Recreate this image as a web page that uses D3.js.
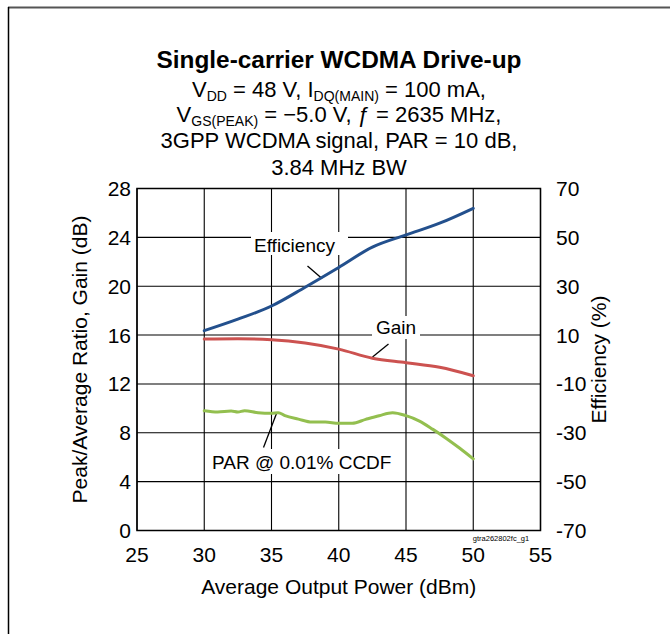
<!DOCTYPE html>
<html>
<head>
<meta charset="utf-8">
<script src="https://cdn.jsdelivr.net/npm/d3@7"></script>
<style>
  body { margin: 0; background: #fff; }
  text { font-family: "Liberation Sans", Arial, sans-serif; fill: #000; }
</style>
</head>
<body>
<svg id="chart"></svg>
<script>
// Config
const width = 670;
const height = 634;

// Data
const xTicks = [25, 30, 35, 40, 45, 50, 55];
const leftTicks = [0, 4, 8, 12, 16, 20, 24, 28];
const rightTicks = [-70, -50, -30, -10, 10, 30, 50, 70];

const effX = [30, 32.5, 35, 37.5, 40, 42.5, 45, 47.5, 50];
const effY = [11.8, 16.5, 21.9, 29.6, 37.7, 46.0, 51.0, 55.8, 61.9];

const gainX = [30, 32.5, 35, 37.5, 40, 42.5, 45, 47.5, 50];
const gainY = [15.67, 15.70, 15.62, 15.35, 14.85, 14.1, 13.74, 13.36, 12.67];

const parX = [30, 31, 32, 32.5, 33, 34, 35, 35.5, 36, 37, 38, 39, 40, 41, 42, 43, 44, 45, 46, 47, 48, 49, 50];
const parY = [9.8, 9.7, 9.78, 9.7, 9.8, 9.64, 9.59, 9.65, 9.4, 9.12, 8.88, 8.88, 8.78, 8.78, 9.1, 9.4, 9.64, 9.4, 8.96, 8.28, 7.54, 6.73, 5.86];

const svg = d3.select("#chart")
  .attr("width", width)
  .attr("height", height);

// page frame
svg.append("line").attr("x1", 8).attr("y1", 7.5).attr("x2", width).attr("y2", 7.5)
  .attr("stroke", "#555").attr("stroke-width", 2);
svg.append("line").attr("x1", 8.5).attr("y1", 7).attr("x2", 8.5).attr("y2", height)
  .attr("stroke", "#000").attr("stroke-width", 1.5);

// plot area
const plot = { left: 137, right: 540.5, top: 188.5, bottom: 530.5 };

const x = d3.scaleLinear().domain([25, 55]).range([plot.left, plot.right]);
const yL = d3.scaleLinear().domain([0, 28]).range([plot.bottom, plot.top]);
const yR = d3.scaleLinear().domain([-70, 70]).range([plot.bottom, plot.top]);

// grid
const grid = svg.append("g").attr("stroke", "#000").attr("stroke-width", 1.1);
xTicks.forEach(t => {
  grid.append("line").attr("x1", x(t)).attr("x2", x(t))
    .attr("y1", plot.top).attr("y2", plot.bottom);
});
leftTicks.forEach(t => {
  grid.append("line").attr("x1", plot.left).attr("x2", plot.right)
    .attr("y1", yL(t)).attr("y2", yL(t));
});

// axes labels
const fs = 21;
svg.append("g").selectAll("text").data(xTicks).join("text")
  .attr("x", d => x(d)).attr("y", 561.5)
  .attr("text-anchor", "middle").attr("font-size", fs)
  .text(d => d);

svg.append("g").selectAll("text").data(leftTicks).join("text")
  .attr("x", 131).attr("y", d => yL(d) + 7.5)
  .attr("text-anchor", "end").attr("font-size", fs)
  .text(d => d);

svg.append("g").selectAll("text").data(rightTicks).join("text")
  .attr("x", 556).attr("y", d => yR(d) + 7.5)
  .attr("text-anchor", "start").attr("font-size", fs)
  .text(d => d);

svg.append("text").attr("x", x(40)).attr("y", 594)
  .attr("text-anchor", "middle").attr("font-size", fs)
  .text("Average Output Power (dBm)");

svg.append("text")
  .attr("transform", `translate(87,${(plot.top + plot.bottom) / 2}) rotate(-90)`)
  .attr("text-anchor", "middle").attr("font-size", fs)
  .text("Peak/Average Ratio, Gain (dB)");

svg.append("text")
  .attr("transform", `translate(606,${(plot.top + plot.bottom) / 2}) rotate(-90)`)
  .attr("text-anchor", "middle").attr("font-size", fs)
  .text("Efficiency (%)");

svg.append("text").attr("x", 501).attr("y", 541)
  .attr("text-anchor", "middle").attr("font-size", 7.5).attr("fill", "#333")
  .text("gtra262802fc_g1");

// title
const cx = 339;
svg.append("text").attr("x", cx).attr("y", 68).attr("text-anchor", "middle")
  .attr("font-size", 24.4).attr("font-weight", "bold")
  .text("Single-carrier WCDMA Drive-up");

const sub = 22;
const subS = 14;
const l2 = svg.append("text").attr("x", cx).attr("y", 96.5).attr("text-anchor", "middle").attr("font-size", sub);
l2.append("tspan").text("V");
l2.append("tspan").attr("font-size", subS).attr("dy", 4).text("DD");
l2.append("tspan").attr("dy", -4).text(" = 48 V, I");
l2.append("tspan").attr("font-size", subS).attr("dy", 4).text("DQ(MAIN)");
l2.append("tspan").attr("dy", -4).text(" = 100 mA,");

const l3 = svg.append("text").attr("x", cx).attr("y", 122).attr("text-anchor", "middle").attr("font-size", sub);
l3.append("tspan").text("V");
l3.append("tspan").attr("font-size", subS).attr("dy", 4).text("GS(PEAK)");
l3.append("tspan").attr("dy", -4).text(" = \u22125.0 V, \u0192 = 2635 MHz,");

svg.append("text").attr("x", cx).attr("y", 148).attr("text-anchor", "middle").attr("font-size", sub)
  .text("3GPP WCDMA signal, PAR = 10 dB,");
svg.append("text").attr("x", cx).attr("y", 174.5).attr("text-anchor", "middle").attr("font-size", sub)
  .text("3.84 MHz BW");

// plot border
svg.append("rect").attr("x", plot.left).attr("y", plot.top)
  .attr("width", plot.right - plot.left).attr("height", plot.bottom - plot.top)
  .attr("fill", "none").attr("stroke", "#000").attr("stroke-width", 1.5);

// annotation labels with white boxes
function label(txt, lx, ly, bx, by, bw, bh, x1, y1, x2, y2) {
  svg.append("rect").attr("x", bx).attr("y", by).attr("width", bw).attr("height", bh).attr("fill", "#fff");
  svg.append("text").attr("x", lx).attr("y", ly).attr("font-size", 19).text(txt);
  svg.append("line").attr("x1", x1).attr("y1", y1).attr("x2", x2).attr("y2", y2)
    .attr("stroke", "#000").attr("stroke-width", 1.3);
}
label("Efficiency", 254, 251.5, 251, 232, 97, 23, 307.5, 266, 322, 278.5);
label("Gain", 376, 334, 372, 316, 48, 23, 388.5, 344, 372.5, 357);
label("PAR @ 0.01% CCDF", 212, 469, 207, 449, 193, 25, 263.5, 447.5, 276.5, 413.5);

// curves
const line = d3.line().curve(d3.curveMonotoneX);
function curve(xs, ys, yScale, color) {
  svg.append("path")
    .attr("d", line(xs.map((v, i) => [x(v), yScale(ys[i])])))
    .attr("fill", "none").attr("stroke", color).attr("stroke-width", 3)
    .attr("stroke-linecap", "round");
}
curve(effX, effY, yR, "#23508d");
curve(gainX, gainY, yL, "#cc5250");
curve(parX, parY, yL, "#93bf4f");
</script>
</body>
</html>
